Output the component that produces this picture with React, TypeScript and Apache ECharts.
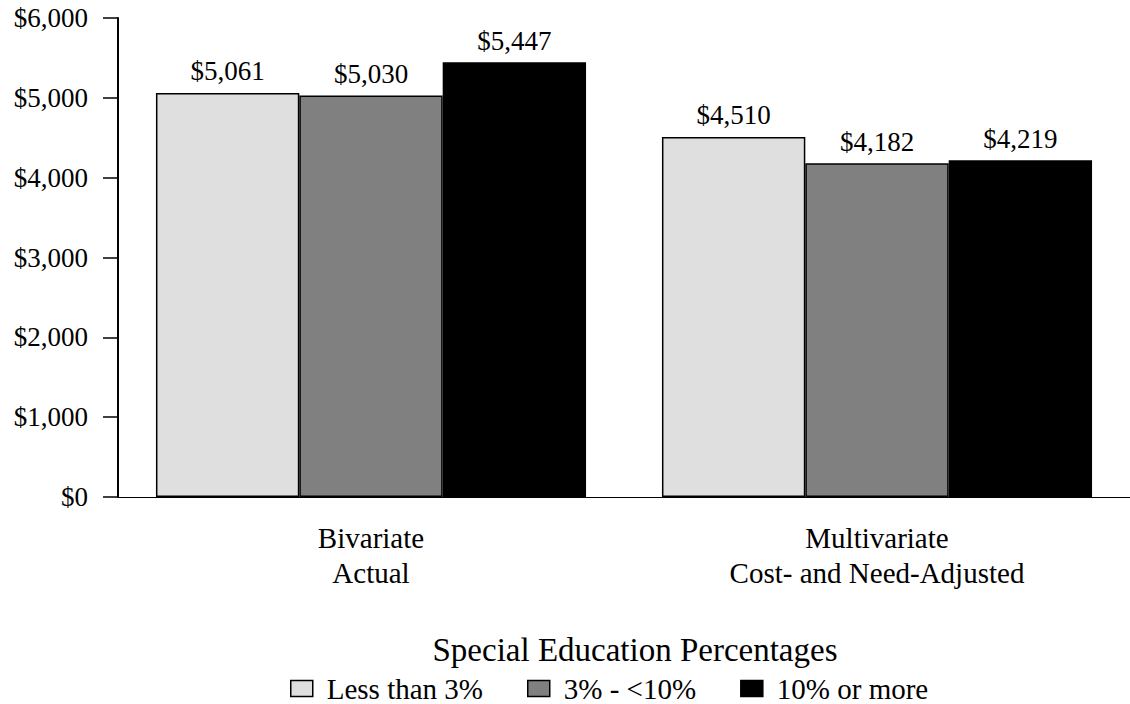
import React, { useEffect, useRef } from "react";
import * as echarts from "echarts";

const categories = ["Bivariate\nActual", "Multivariate\nCost- and Need-Adjusted"];
const seriesNames = ["Less than 3%", "3% - <10%", "10% or more"];
const lessThan3 = [5061, 4510];
const from3to10 = [5030, 4182];
const tenOrMore = [5447, 4219];
const yTickLabels = ["$0", "$1,000", "$2,000", "$3,000", "$4,000", "$5,000", "$6,000"];
const legendTitle = "Special Education Percentages";

const colors = ["#dfdfdf", "#808080", "#000000"];
const FONT = "'Liberation Serif', 'Times New Roman', serif";

function fmt(v: number): string {
  return "$" + v.toLocaleString("en-US");
}

export default function App() {
  const ref = useRef<HTMLDivElement>(null);
  useEffect(() => {
    if (!ref.current) return;
    const chart = echarts.init(ref.current, undefined, { renderer: "svg" });
    const values = [lessThan3, from3to10, tenOrMore];
    chart.setOption({
      animation: false,
      backgroundColor: "#ffffff",
      grid: { left: 118, top: 18, width: 1020, height: 479, containLabel: false },
      xAxis: {
        type: "category",
        data: categories,
        axisLine: { lineStyle: { color: "#000", width: 1 } },
        axisTick: { alignWithLabel: true, length: 15, lineStyle: { color: "#000", width: 1 } },
        axisLabel: {
          color: "#000",
          fontFamily: FONT,
          fontSize: 29,
          lineHeight: 35,
          margin: 23,
          interval: 0,
        },
      },
      yAxis: {
        type: "value",
        min: 0,
        max: 6000,
        interval: 1000,
        splitLine: { show: false },
        axisLine: { show: true, lineStyle: { color: "#000", width: 2 } },
        axisTick: { show: true, length: 15, lineStyle: { color: "#000", width: 1.5 } },
        axisLabel: {
          color: "#000",
          fontFamily: FONT,
          fontSize: 27,
          margin: 30,
          formatter: (v: number) => yTickLabels[Math.round(v / 1000)] ?? fmt(v),
        },
      },
      legend: {
        data: seriesNames,
        left: 290,
        top: 674,
        padding: 0,
        itemWidth: 22,
        itemHeight: 16,
        itemGap: 44,
        icon: "rect",
        itemStyle: { borderColor: "#000", borderWidth: 1.5 },
        textStyle: { color: "#000", fontFamily: FONT, fontSize: 29, padding: [0, 0, 0, 9] },
      },
      graphic: [
        {
          type: "text",
          x: 635,
          y: 650,
          style: {
            text: legendTitle,
            fill: "#000",
            font: `33px ${FONT}`,
            align: "center",
            verticalAlign: "middle",
          },
        },
      ],
      series: seriesNames.map((name, i) => ({
        name,
        type: "bar",
        data: values[i],
        barGap: "0%",
        barCategoryGap: "15%",
        itemStyle: { color: colors[i], borderColor: "#000", borderWidth: 1.5 },
        label: {
          show: true,
          position: "top",
          distance: 8,
          color: "#000",
          fontFamily: FONT,
          fontSize: 27,
          formatter: (p: any) => fmt(p.value),
        },
      })),
    });
    return () => chart.dispose();
  }, []);
  return (
    <div
      ref={ref}
      style={{ position: "absolute", left: 0, top: 0, width: 1130, height: 704, overflow: "hidden" }}
    />
  );
}
